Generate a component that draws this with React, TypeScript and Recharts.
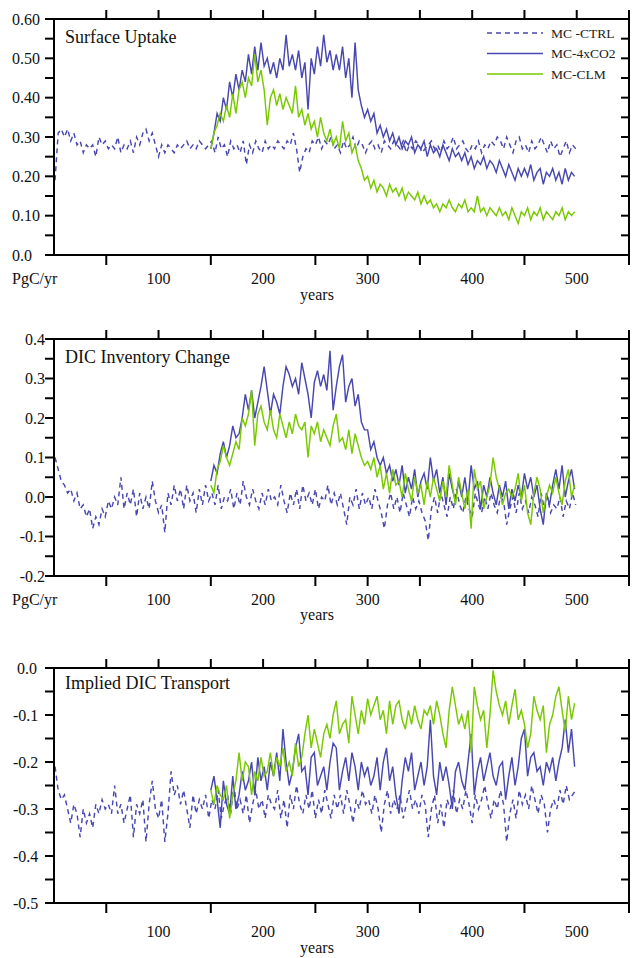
import React from "react";
import { LineChart, Line, XAxis, YAxis, Legend } from "recharts";

const BLUE = "#4848b0";
const GREEN = "#7ac800";
const INK = "#000000";
const FONT = "'Liberation Serif', 'Times New Roman', serif";

// control runs start at year 1, the perturbed runs branch off at year 150; one value every 3 years
const CTRL_START = 1;
const RUN_START = 150;
const STEP = 3;

const X_TICKS = [50, 100, 150, 200, 250, 300, 350, 400, 450, 500, 550];
const X_LABELS = [100, 200, 300, 400, 500];
// the original only draws these marks under the bottom axis
const X_BOTTOM_MARKS = [50, 150, 250, 300, 350, 450, 550];

const UPTAKE_TICKS = [0, 0.05, 0.1, 0.15, 0.2, 0.25, 0.3, 0.35, 0.4, 0.45, 0.5, 0.55, 0.6];
const DIC_TICKS = [-0.2, -0.15, -0.1, -0.05, 0, 0.05, 0.1, 0.15, 0.2, 0.25, 0.3, 0.35, 0.4];
const TRANSPORT_TICKS = [-0.5, -0.45, -0.4, -0.35, -0.3, -0.25, -0.2, -0.15, -0.1, -0.05, 0];

const UPTAKE_CTRL = [
  0.19, 0.31, 0.32, 0.30, 0.32, 0.29, 0.31, 0.28, 0.29, 0.26,
  0.28, 0.27, 0.28, 0.25, 0.30, 0.28, 0.29, 0.27, 0.28, 0.27,
  0.30, 0.26, 0.28, 0.27, 0.29, 0.26, 0.30, 0.28, 0.31, 0.32,
  0.29, 0.31, 0.28, 0.25, 0.28, 0.26, 0.28, 0.27, 0.26, 0.28,
  0.27, 0.28, 0.29, 0.27, 0.28, 0.27, 0.29, 0.28, 0.27, 0.28,
  0.29, 0.26, 0.30, 0.27, 0.28, 0.25, 0.29, 0.27, 0.28, 0.26,
  0.29, 0.23, 0.28, 0.26, 0.29, 0.27, 0.26, 0.29, 0.27, 0.28,
  0.27, 0.29, 0.28, 0.27, 0.29, 0.28, 0.31, 0.27, 0.21, 0.25,
  0.27, 0.26, 0.29, 0.28, 0.30, 0.27, 0.29, 0.28, 0.30, 0.27,
  0.28, 0.26, 0.29, 0.27, 0.28, 0.30, 0.27, 0.29, 0.28, 0.26,
  0.28, 0.29, 0.27, 0.28, 0.26, 0.29, 0.28, 0.27, 0.29, 0.28,
  0.27, 0.29, 0.26, 0.28, 0.27, 0.29, 0.28, 0.26, 0.27, 0.28,
  0.29, 0.27, 0.28, 0.26, 0.29, 0.27, 0.28, 0.30, 0.27, 0.28,
  0.29, 0.27, 0.26, 0.28, 0.27, 0.29, 0.26, 0.28, 0.27, 0.29,
  0.28, 0.30, 0.29, 0.27, 0.30, 0.28, 0.26, 0.29, 0.30, 0.27,
  0.28, 0.26, 0.29, 0.27, 0.28, 0.30, 0.28, 0.26, 0.29, 0.27,
  0.28, 0.25, 0.27, 0.29, 0.26, 0.28, 0.27,
];
const UPTAKE_CO2 = [
  0.27, 0.31, 0.36, 0.34, 0.40, 0.37, 0.44, 0.40, 0.46, 0.42,
  0.47, 0.44, 0.51, 0.46, 0.53, 0.47, 0.54, 0.48, 0.50, 0.46,
  0.49, 0.45, 0.50, 0.47, 0.56, 0.48, 0.51, 0.47, 0.52, 0.45,
  0.49, 0.37, 0.50, 0.46, 0.53, 0.48, 0.56, 0.49, 0.52, 0.47,
  0.51, 0.47, 0.53, 0.45, 0.50, 0.40, 0.54, 0.42, 0.38, 0.35,
  0.37, 0.34, 0.36, 0.31, 0.33, 0.30, 0.32, 0.29, 0.31, 0.28,
  0.30, 0.27, 0.29, 0.28, 0.30, 0.26, 0.28, 0.27, 0.29, 0.25,
  0.28, 0.26, 0.27, 0.25, 0.28, 0.26, 0.24, 0.27, 0.25, 0.26,
  0.24, 0.26, 0.23, 0.25, 0.22, 0.24, 0.23, 0.25, 0.22, 0.24,
  0.23, 0.21, 0.24, 0.22, 0.20, 0.23, 0.21, 0.19, 0.22, 0.20,
  0.22, 0.20, 0.23, 0.19, 0.21, 0.22, 0.18, 0.21, 0.20, 0.22,
  0.19, 0.21, 0.18, 0.22, 0.19, 0.21, 0.20,
];
const UPTAKE_CLM = [
  0.27, 0.31, 0.33, 0.36, 0.34, 0.38, 0.35, 0.41, 0.36, 0.42,
  0.44, 0.40, 0.45, 0.43, 0.51, 0.44, 0.47, 0.42, 0.33, 0.40,
  0.42, 0.38, 0.41, 0.37, 0.40, 0.38, 0.36, 0.43, 0.35, 0.37,
  0.33, 0.36, 0.32, 0.34, 0.30, 0.35, 0.31, 0.29, 0.32, 0.28,
  0.30, 0.27, 0.34, 0.29, 0.31, 0.26, 0.28, 0.24, 0.22, 0.19,
  0.20, 0.17, 0.19, 0.16, 0.18, 0.17, 0.15, 0.18, 0.16, 0.17,
  0.15, 0.17, 0.14, 0.16, 0.15, 0.14, 0.16, 0.13, 0.15, 0.13,
  0.14, 0.12, 0.13, 0.11, 0.13, 0.12, 0.14, 0.12, 0.11, 0.13,
  0.12, 0.14, 0.11, 0.12, 0.11, 0.15, 0.11, 0.12, 0.10, 0.12,
  0.11, 0.10, 0.12, 0.10, 0.11, 0.09, 0.12, 0.10, 0.08, 0.11,
  0.10, 0.12, 0.09, 0.11, 0.10, 0.12, 0.09, 0.11, 0.10, 0.09,
  0.11, 0.10, 0.12, 0.09, 0.11, 0.10, 0.11,
];

const DIC_CTRL = [
  0.10, 0.07, 0.04, 0.03, 0.01, 0.02, -0.01, 0.01, -0.03, -0.02,
  -0.05, -0.03, -0.08, -0.05, -0.07, -0.03, -0.05, -0.01, -0.03, 0.00,
  -0.02, 0.05, -0.03, 0.01, -0.02, 0.02, -0.05, 0.01, -0.03, 0.00,
  -0.03, 0.04, -0.01, -0.04, -0.02, -0.09, 0.01, -0.02, 0.03, -0.01,
  0.02, -0.03, 0.03, -0.01, 0.01, -0.04, 0.02, -0.02, 0.03, -0.01,
  0.01, -0.02, 0.03, -0.03, 0.00, -0.01, 0.02, -0.03, 0.01, -0.02,
  0.04, 0.00, -0.02, 0.02, -0.01, -0.03, 0.01, -0.02, 0.02, -0.01,
  0.00, -0.02, 0.03, -0.01, -0.04, 0.01, -0.02, 0.02, -0.03, 0.03,
  -0.01, 0.01, -0.02, 0.02, -0.03, 0.00, -0.01, 0.03, -0.02, 0.01,
  -0.02, 0.01, -0.03, -0.07, 0.00, -0.02, 0.02, -0.03, 0.01, -0.02,
  0.00, -0.03, 0.02, -0.01, -0.04, -0.08, -0.02, 0.01, -0.03, 0.00,
  -0.04, 0.01, -0.02, -0.05, 0.00, -0.03, -0.01, -0.04, -0.06, -0.11,
  -0.03, 0.00, -0.04, 0.01, -0.02, -0.05, 0.00, -0.03, 0.02, -0.02,
  -0.04, 0.00, -0.03, -0.05, 0.01, -0.02, -0.04, 0.00, -0.03, 0.01,
  -0.02, -0.04, 0.00, -0.01, -0.07, -0.03, 0.00, -0.04, 0.01, -0.03,
  -0.01, -0.04, 0.00, -0.02, -0.05, 0.01, -0.03, 0.00, -0.04, -0.02,
  -0.03, 0.00, -0.05, -0.01, -0.03, 0.01, -0.02,
];
const DIC_CO2 = [
  0.04, 0.08, 0.06, 0.11, 0.14, 0.10, 0.13, 0.18, 0.15, 0.16,
  0.20, 0.26, 0.22, 0.27, 0.20, 0.24, 0.28, 0.33, 0.27, 0.21,
  0.26, 0.24, 0.21, 0.28, 0.33, 0.31, 0.28, 0.30, 0.26, 0.34,
  0.30, 0.26, 0.20, 0.29, 0.32, 0.28, 0.31, 0.27, 0.37, 0.22,
  0.28, 0.33, 0.36, 0.24, 0.28, 0.30, 0.23, 0.26, 0.19, 0.17,
  0.17, 0.12, 0.14, 0.10, 0.08, 0.10, 0.06, 0.08, 0.04, 0.07,
  0.03, 0.08, 0.01, 0.05, 0.02, 0.07, 0.00, 0.04, 0.06, 0.02,
  0.10, 0.04, 0.07, 0.01, 0.05, -0.02, 0.06, 0.02, -0.01, 0.04,
  0.00, 0.05, -0.01, 0.08, 0.02, 0.04, -0.03, 0.03, 0.00, 0.05,
  0.01, -0.02, 0.03, 0.00, 0.04, -0.03, 0.02, -0.01, 0.03, 0.00,
  0.06, 0.02, 0.05, 0.00, 0.03, -0.03, -0.07, 0.01, -0.02, 0.03,
  0.07, 0.02, 0.08, 0.00, 0.04, 0.07, 0.02,
];
const DIC_CLM = [
  0.03, 0.01, 0.07, 0.09, 0.13, 0.10, 0.08, 0.11, 0.14, 0.12,
  0.20, 0.18, 0.21, 0.27, 0.13, 0.21, 0.23, 0.19, 0.17, 0.22,
  0.17, 0.15, 0.21, 0.18, 0.15, 0.19, 0.16, 0.21, 0.18, 0.17,
  0.19, 0.10, 0.18, 0.16, 0.19, 0.14, 0.17, 0.15, 0.13, 0.18,
  0.21, 0.14, 0.15, 0.12, 0.17, 0.11, 0.16, 0.13, 0.10, 0.08,
  0.09, 0.07, 0.10, 0.05, 0.08, 0.02, 0.06, 0.01, 0.07, 0.03,
  0.04, 0.00, 0.06, 0.02, -0.01, 0.05, 0.01, 0.03, -0.02, 0.04,
  0.00, 0.05, 0.02, -0.01, 0.04, 0.00, 0.08, 0.03, -0.02, 0.05,
  0.01, -0.03, 0.02, -0.08, 0.07, 0.02, 0.04, -0.03, 0.00, 0.03,
  0.10, 0.05, 0.02, -0.02, 0.01, 0.02, 0.00, 0.02, 0.06, -0.01,
  0.03, -0.04, -0.07, 0.01, 0.05, 0.02, -0.04, 0.00, 0.03, 0.01,
  0.05, 0.01, -0.02, 0.04, 0.07, 0.00, 0.03,
];

const TRANSPORT_CTRL = [
  -0.21, -0.26, -0.28, -0.27, -0.30, -0.33, -0.29, -0.31, -0.36, -0.30,
  -0.33, -0.31, -0.34, -0.29, -0.31, -0.28, -0.30, -0.29, -0.31, -0.25,
  -0.31, -0.29, -0.33, -0.30, -0.27, -0.36, -0.29, -0.31, -0.28, -0.37,
  -0.29, -0.24, -0.30, -0.32, -0.28, -0.37, -0.31, -0.22, -0.27, -0.25,
  -0.29, -0.26, -0.30, -0.34, -0.27, -0.31, -0.28, -0.30, -0.27, -0.32,
  -0.28, -0.30, -0.26, -0.32, -0.29, -0.27, -0.31, -0.25, -0.30, -0.28,
  -0.31, -0.27, -0.33, -0.29, -0.26, -0.30, -0.28, -0.32, -0.27, -0.29,
  -0.30, -0.26, -0.32, -0.28, -0.34, -0.27, -0.30, -0.25, -0.29, -0.31,
  -0.27, -0.30, -0.26, -0.32, -0.28, -0.31, -0.26, -0.29, -0.32, -0.27,
  -0.30, -0.27, -0.31, -0.26, -0.29, -0.33, -0.28, -0.30, -0.26, -0.29,
  -0.28, -0.31, -0.27, -0.30, -0.35, -0.29, -0.26, -0.31, -0.28, -0.30,
  -0.27, -0.32, -0.29, -0.26, -0.30, -0.28, -0.31, -0.27, -0.29, -0.36,
  -0.30, -0.27, -0.33, -0.29, -0.34, -0.28, -0.30, -0.26, -0.31, -0.28,
  -0.30, -0.26, -0.29, -0.33, -0.27, -0.30, -0.28, -0.25, -0.29, -0.32,
  -0.28, -0.30, -0.26, -0.29, -0.37, -0.31, -0.28, -0.32, -0.26, -0.29,
  -0.27, -0.30, -0.25, -0.28, -0.31, -0.27, -0.29, -0.35, -0.30, -0.28,
  -0.30, -0.26, -0.29, -0.25, -0.28, -0.27, -0.26,
];
const TRANSPORT_CO2 = [
  -0.26, -0.23, -0.28, -0.34, -0.24, -0.29, -0.31, -0.23, -0.30, -0.27,
  -0.22, -0.26, -0.24, -0.20, -0.27, -0.19, -0.24, -0.21, -0.26, -0.20,
  -0.23, -0.18, -0.24, -0.13, -0.20, -0.25, -0.22, -0.17, -0.14, -0.22,
  -0.21, -0.27, -0.19, -0.18, -0.25, -0.23, -0.21, -0.26, -0.20, -0.16,
  -0.17, -0.26, -0.22, -0.19, -0.24, -0.18, -0.21, -0.26, -0.20, -0.23,
  -0.21, -0.25, -0.23, -0.19, -0.26, -0.20, -0.17, -0.24, -0.21, -0.27,
  -0.31, -0.24, -0.19, -0.22, -0.18, -0.26, -0.23, -0.20, -0.25, -0.21,
  -0.11, -0.23, -0.27, -0.20, -0.24, -0.21, -0.25, -0.30, -0.22, -0.20,
  -0.24, -0.26, -0.20, -0.14, -0.27, -0.22, -0.19, -0.24, -0.21, -0.18,
  -0.23, -0.25, -0.21, -0.20, -0.28, -0.23, -0.19, -0.25, -0.21, -0.15,
  -0.13, -0.23, -0.19, -0.18, -0.22, -0.21, -0.25, -0.20, -0.22, -0.19,
  -0.24, -0.20, -0.17, -0.11, -0.18, -0.13, -0.21,
];
const TRANSPORT_CLM = [
  -0.26, -0.29, -0.25, -0.27, -0.28, -0.25, -0.32, -0.27, -0.24, -0.18,
  -0.24, -0.20, -0.21, -0.27, -0.22, -0.24, -0.19, -0.23, -0.22, -0.18,
  -0.23, -0.19, -0.21, -0.17, -0.22, -0.20, -0.23, -0.16, -0.21, -0.19,
  -0.14, -0.10, -0.17, -0.13, -0.16, -0.19, -0.14, -0.12, -0.15, -0.10,
  -0.07, -0.14, -0.12, -0.11, -0.16, -0.06, -0.10, -0.14, -0.09, -0.12,
  -0.065, -0.10, -0.08, -0.06, -0.11, -0.09, -0.14, -0.07, -0.12, -0.08,
  -0.07, -0.11, -0.13, -0.09, -0.12, -0.08, -0.11, -0.13, -0.09, -0.10,
  -0.08, -0.12, -0.07, -0.10, -0.14, -0.17, -0.09, -0.04, -0.08, -0.12,
  -0.10, -0.13, -0.09, -0.18, -0.04, -0.08, -0.11, -0.09, -0.17, -0.10,
  -0.005, -0.05, -0.08, -0.10, -0.07, -0.12, -0.08, -0.045, -0.11, -0.09,
  -0.12, -0.17, -0.14, -0.06, -0.09, -0.11, -0.08, -0.18, -0.12, -0.10,
  -0.06, -0.04, -0.09, -0.135, -0.06, -0.11, -0.075,
];

const LEGEND_ITEMS = [
  { name: "MC -CTRL", color: BLUE, dash: "5 4" },
  { name: "MC-4xCO2", color: BLUE, dash: undefined },
  { name: "MC-CLM", color: GREEN, dash: undefined },
];

const toPoints = (start: number, values: number[]) =>
  values.map((v, i) => ({ year: start + i * STEP, v }));

const isMajor = (v: number) => Math.abs(Math.round(v * 100)) % 10 === 0;

interface PanelSpec {
  title: string;
  top: number;
  height: number;
  plotTop: number;
  plotBottom: number;
  domain: [number, number];
  yTicks: number[];
  ctrl: number[];
  co2: number[];
  clm: number[];
  yLabel: (v: number) => string;
  yLabelPos: (v: number) => { x: number; anchor: "start" | "end" };
  xLabelDy: number;
  unit: boolean;
  legend: boolean;
  titleY: number;
  yearsY: number;
}

const PANELS: PanelSpec[] = [
  {
    title: "Surface Uptake",
    top: 0,
    height: 320,
    plotTop: 19,
    plotBottom: 255,
    domain: [0, 0.6],
    yTicks: UPTAKE_TICKS,
    ctrl: UPTAKE_CTRL,
    co2: UPTAKE_CO2,
    clm: UPTAKE_CLM,
    yLabel: (v) => (v === 0 ? "0.0" : v.toFixed(2)),
    yLabelPos: () => ({ x: 12, anchor: "start" }),
    xLabelDy: 29,
    unit: true,
    legend: true,
    titleY: 43,
    yearsY: 300,
  },
  {
    title: "DIC Inventory Change",
    top: 320,
    height: 320,
    plotTop: 19,
    plotBottom: 256,
    domain: [-0.2, 0.4],
    yTicks: DIC_TICKS,
    ctrl: DIC_CTRL,
    co2: DIC_CO2,
    clm: DIC_CLM,
    yLabel: (v) => v.toFixed(1),
    yLabelPos: () => ({ x: 45, anchor: "end" }),
    xLabelDy: 29,
    unit: true,
    legend: false,
    titleY: 43,
    yearsY: 300,
  },
  {
    title: "Implied DIC Transport",
    top: 640,
    height: 318,
    plotTop: 28,
    plotBottom: 263,
    domain: [-0.5, 0],
    yTicks: TRANSPORT_TICKS,
    ctrl: TRANSPORT_CTRL,
    co2: TRANSPORT_CO2,
    clm: TRANSPORT_CLM,
    yLabel: (v) => v.toFixed(1),
    yLabelPos: (v) => ({ x: v < 0 ? 13 : 17, anchor: "start" }),
    xLabelDy: 33.5,
    unit: false,
    legend: false,
    titleY: 49,
    yearsY: 313,
  },
];

const AXIS_LINE = { stroke: INK, strokeWidth: 2 };
const textStyle = { fontFamily: FONT, fontSize: 16, fill: "#111" };
const LINE_W = 1.45;

function renderLegend() {
  return (
    <svg width={150} height={66}>
      {LEGEND_ITEMS.map((item, i) => {
        const y = 13 + i * 20.5;
        return (
          <g key={item.name}>
            <line x1={7} x2={63} y1={y} y2={y} stroke={item.color} strokeWidth={1.4} strokeDasharray={item.dash} />
            <text x={71} y={y + 4.5} style={{ fontFamily: FONT, fontSize: 13.5, fill: "#222" }}>
              {item.name}
            </text>
          </g>
        );
      })}
    </svg>
  );
}

function Panel({ p }: { p: PanelSpec }) {
  const ctrl = toPoints(CTRL_START, p.ctrl);
  const co2 = toPoints(RUN_START, p.co2);
  const clm = toPoints(RUN_START, p.clm);

  const topTick = (props: any) => {
    const { x, y } = props;
    return <line x1={x} x2={x} y1={y} y2={y - 9} stroke={INK} strokeWidth={2} />;
  };
  const bottomTick = (props: any) => {
    const { x, y, payload } = props;
    const v = payload.value;
    return (
      <g>
        {X_BOTTOM_MARKS.includes(v) && <line x1={x} x2={x} y1={y} y2={y + 10} stroke={INK} strokeWidth={2} />}
        {X_LABELS.includes(v) && (
          <text x={x} y={y + p.xLabelDy} textAnchor="middle" style={textStyle}>
            {v}
          </text>
        )}
      </g>
    );
  };
  const leftTick = (props: any) => {
    const { x, y, payload } = props;
    const v = payload.value;
    const pos = p.yLabelPos(v);
    return (
      <g>
        <line x1={x - 9} x2={x} y1={y} y2={y} stroke={INK} strokeWidth={2} />
        {isMajor(v) && (
          <text x={pos.x} y={y + 5.5} textAnchor={pos.anchor} style={textStyle}>
            {p.yLabel(v)}
          </text>
        )}
      </g>
    );
  };
  const rightTick = (props: any) => {
    const { x, y } = props;
    return <line x1={x - 8} x2={x} y1={y} y2={y} stroke={INK} strokeWidth={2} />;
  };

  return (
    <div style={{ position: "absolute", left: 0, top: p.top }}>
      <LineChart width={636} height={p.height} margin={{ top: 0, right: 0, bottom: 0, left: 0 }}>
        <XAxis
          xAxisId="t"
          orientation="top"
          type="number"
          dataKey="year"
          domain={[0, 550]}
          allowDataOverflow
          ticks={X_TICKS}
          interval={0}
          height={p.plotTop}
          axisLine={AXIS_LINE}
          tickLine={false}
          tickSize={0}
          tickMargin={0}
          tick={topTick}
        />
        <XAxis
          xAxisId="b"
          type="number"
          dataKey="year"
          domain={[0, 550]}
          allowDataOverflow
          ticks={X_TICKS}
          interval={0}
          height={p.height - p.plotBottom}
          axisLine={AXIS_LINE}
          tickLine={false}
          tickSize={0}
          tickMargin={0}
          tick={bottomTick}
        />
        <YAxis
          yAxisId="l"
          type="number"
          domain={p.domain}
          allowDataOverflow
          ticks={p.yTicks}
          interval={0}
          width={54}
          axisLine={AXIS_LINE}
          tickLine={false}
          tickSize={0}
          tickMargin={0}
          tick={leftTick}
        />
        <YAxis
          yAxisId="r"
          orientation="right"
          type="number"
          domain={p.domain}
          allowDataOverflow
          ticks={p.yTicks}
          interval={0}
          width={7}
          axisLine={AXIS_LINE}
          tickLine={false}
          tickSize={0}
          tickMargin={0}
          tick={rightTick}
        />
        <Line xAxisId="b" yAxisId="l" data={ctrl} dataKey="v" type="linear" stroke={BLUE} strokeWidth={LINE_W} strokeDasharray="5 4" dot={false} activeDot={false} isAnimationActive={false} />
        <Line xAxisId="b" yAxisId="l" data={co2} dataKey="v" type="linear" stroke={BLUE} strokeWidth={LINE_W} dot={false} activeDot={false} isAnimationActive={false} />
        <Line xAxisId="b" yAxisId="l" data={clm} dataKey="v" type="linear" stroke={GREEN} strokeWidth={LINE_W} dot={false} activeDot={false} isAnimationActive={false} />
        {p.legend && (
          <Legend
            layout="vertical"
            align="center"
            verticalAlign="middle"
            content={renderLegend}
            wrapperStyle={{ left: 480, top: 20, width: 150, height: 66 }}
          />
        )}
      </LineChart>
      <svg width={636} height={p.height} style={{ position: "absolute", left: 0, top: 0, pointerEvents: "none" }}>
        <text x={65} y={p.titleY} style={{ fontFamily: FONT, fontSize: 18, fill: "#111" }}>
          {p.title}
        </text>
        {p.unit && (
          <text x={12} y={p.plotBottom + p.xLabelDy} style={textStyle}>
            PgC/yr
          </text>
        )}
        <text x={317} y={p.yearsY} textAnchor="middle" style={textStyle}>
          years
        </text>
      </svg>
    </div>
  );
}

export default function App() {
  return (
    <div style={{ position: "absolute", left: 0, top: 0, width: 636, height: 958, background: "#fff" }}>
      {PANELS.map((p) => (
        <Panel key={p.title} p={p} />
      ))}
    </div>
  );
}
